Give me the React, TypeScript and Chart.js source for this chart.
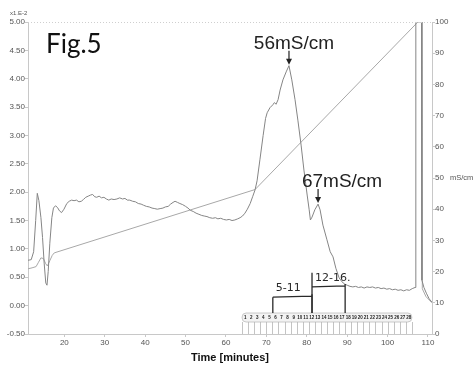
import React, { useEffect, useRef } from 'react';
import { Chart, registerables } from 'chart.js';

Chart.register(...registerables);

// UV absorbance trace (left axis, x1.E-2)
const uvTime = [
  11.0, 11.8, 12.4, 12.9, 13.3, 13.7, 14.2, 14.6, 15.0, 15.4, 15.7, 16.0, 16.4, 16.9, 17.3, 17.8, 18.3, 18.8, 19.3, 19.9,
  20.6, 21.2, 21.8, 22.4, 23.0, 23.6, 24.2, 24.7, 25.3, 25.9, 26.5, 27.0, 27.5, 28.0, 28.6, 29.2, 29.8, 30.4, 31.0, 31.6,
  32.3, 33.0, 33.7, 34.4, 35.0, 35.6, 36.2, 36.9, 37.6, 38.3, 39.0, 39.6, 40.3, 41.0, 41.7, 42.4, 43.0, 43.7, 44.4, 45.0,
  45.7, 46.3, 46.9, 47.4, 48.0, 48.6, 49.3, 50.0, 50.6, 51.2, 51.9, 52.6, 53.3, 54.0, 54.6, 55.3, 56.0, 56.7, 57.4, 58.0,
  58.7, 59.4, 60.1, 60.8, 61.5, 62.2, 62.9, 63.5, 64.1, 64.7, 65.3, 66.0, 66.6, 67.2, 67.7, 68.4, 69.2, 69.8, 70.2, 70.9,
  71.6, 72.0, 72.4, 72.9, 73.4, 74.1, 74.9, 75.6, 76.3, 77.1, 77.8, 78.6, 79.3, 80.1, 80.6, 80.9, 81.3, 82.0, 82.8, 83.3,
  84.0, 85.0, 85.8, 86.5, 87.2, 88.0, 88.7, 89.4, 90.0, 90.7, 91.4, 92.1, 92.8, 93.5, 94.2, 94.9, 95.6, 96.3, 97.0, 97.7,
  98.4, 99.1, 99.8, 100.5, 101.2, 101.9, 102.6, 103.3, 104.0, 104.7, 105.4, 106.1, 106.8, 107.0, 108.4, 108.5, 109.0, 109.6, 110.3, 111.0
];
const uvAbs = [
  0.80, 0.81, 0.95, 1.50, 1.98, 1.85, 1.55, 1.20, 0.75, 0.40, 0.36, 0.60, 1.10, 1.55, 1.72, 1.76, 1.73, 1.67, 1.64, 1.70,
  1.80, 1.84, 1.86, 1.85, 1.86, 1.83, 1.84, 1.87, 1.91, 1.93, 1.95, 1.96, 1.92, 1.91, 1.93, 1.90, 1.91, 1.88, 1.86, 1.88,
  1.87, 1.88, 1.90, 1.88, 1.89, 1.86, 1.86, 1.84, 1.83, 1.80, 1.79, 1.77, 1.75, 1.74, 1.72, 1.71, 1.70, 1.71, 1.72, 1.74,
  1.75, 1.79, 1.82, 1.84, 1.82, 1.80, 1.78, 1.75, 1.72, 1.68, 1.66, 1.63, 1.61, 1.59, 1.58, 1.57, 1.55, 1.54, 1.55, 1.53,
  1.54, 1.52, 1.51, 1.52, 1.50, 1.51, 1.53, 1.55, 1.58, 1.63, 1.70, 1.80, 1.92, 2.04, 2.20, 2.57, 3.00, 3.30, 3.40, 3.49,
  3.54, 3.58, 3.55, 3.63, 3.80, 3.98, 4.12, 4.23, 3.98, 3.63, 3.27, 2.83, 2.39, 1.95, 1.69, 1.51, 1.56, 1.69, 1.79, 1.69,
  1.42, 1.16, 0.95, 0.86, 0.66, 0.49, 0.42, 0.38, 0.36, 0.34, 0.33, 0.34, 0.32, 0.33, 0.31, 0.33, 0.32, 0.33, 0.31, 0.32,
  0.30, 0.31, 0.29, 0.30, 0.28, 0.29, 0.27, 0.28, 0.26, 0.28, 0.27, 0.30, 0.32, 5.60, 5.60, 0.45, 0.32, 0.22, 0.12, 0.06
];

// Conductivity trace (right axis, mS/cm)
const condTime = [11.0, 12.0, 13.0, 13.6, 14.2, 14.8, 15.4, 15.8, 16.4, 17.0, 17.5, 67.2, 107.5, 108.5, 108.6, 109.5, 111.0];
const condValue = [20.9, 21.2, 21.6, 23.0, 24.4, 24.2, 22.5, 21.8, 23.5, 25.2, 26.0, 46.3, 100, 100, 14.5, 12.0, 10.0];

// Axis ticks
const xTicks = [20, 30, 40, 50, 60, 70, 80, 90, 100, 110];
const leftTicks = [-0.5, 0, 0.5, 1, 1.5, 2, 2.5, 3, 3.5, 4, 4.5, 5];
const rightTicks = [0, 10, 20, 30, 40, 50, 60, 70, 80, 90, 100];

// Fraction collector
const fractionLabels = ['1', '2', '3', '4', '5', '6', '7', '8', '9', '10', '11', '12', '13', '14', '15', '16', '17', '18', '19', '20', '21', '22', '23', '24', '25', '26', '27', '28'];
const fractionEdges = [64.0, 65.5, 67.0, 68.5, 70.0, 71.5, 73.0, 74.5, 76.0, 77.5, 79.0, 80.5, 82.0, 83.5, 85.0, 86.5, 88.0, 89.5, 91.0, 92.5, 94.0, 95.5, 97.0, 98.5, 100.0, 101.5, 103.0, 104.5, 106.0];

// Hand-written pooled fractions
const bracketLabels = ['5-11', '12-16.'];
const bracketStart = [71.6, 81.3];
const bracketEnd = [81.3, 89.5];
const bracketLevel = [0.15, 0.33];
const bracketTop = [0.15, 0.58];

// Peak annotations
const peakLabels = ['56mS/cm', '67mS/cm'];
const peakTime = [75.6, 82.8];
const peakAbs = [4.23, 1.79];
const peakTextShift = [5, 24];

const overlay = {
  id: 'overlay',
  afterDraw(chart: any) {
    const { ctx, chartArea: a, scales } = chart;
    const x = scales.x, y = scales.y, y1 = scales.y1;
    ctx.save();

    // top frame line
    ctx.strokeStyle = '#cfcfcf';
    ctx.lineWidth = 1;
    ctx.setLineDash([1, 2]);
    ctx.beginPath();
    ctx.moveTo(a.left, a.top + 0.5);
    ctx.lineTo(a.right, a.top + 0.5);
    ctx.stroke();
    ctx.setLineDash([]);

    // unit labels
    ctx.fillStyle = '#555';
    ctx.font = '6px "Liberation Sans", Arial, sans-serif';
    ctx.textAlign = 'left';
    ctx.textBaseline = 'middle';
    ctx.fillText('x1.E-2', 10, a.top - 9);
    ctx.font = '7.5px "Liberation Sans", Arial, sans-serif';
    ctx.fillText('mS/cm', a.right + 18, y1.getPixelForValue(50));

    // Figure label
    ctx.fillStyle = '#111';
    ctx.font = '26px Lato, sans-serif';
    ctx.textBaseline = 'alphabetic';
    ctx.fillText('Fig.5', a.left + 18, a.top + 31);

    // Peak annotations with arrows
    for (let i = 0; i < peakLabels.length; i++) {
      const px = x.getPixelForValue(peakTime[i]);
      const py = y.getPixelForValue(peakAbs[i]);
      const tipY = py - 1;
      const tailY = tipY - 14;
      ctx.strokeStyle = '#222';
      ctx.fillStyle = '#222';
      ctx.lineWidth = 1.2;
      ctx.beginPath();
      ctx.moveTo(px, tailY);
      ctx.lineTo(px, tipY - 4);
      ctx.stroke();
      ctx.beginPath();
      ctx.moveTo(px - 3, tipY - 6);
      ctx.lineTo(px + 3, tipY - 6);
      ctx.lineTo(px, tipY);
      ctx.closePath();
      ctx.fill();
      ctx.font = '19px "Liberation Sans", Arial, sans-serif';
      ctx.textAlign = 'center';
      ctx.textBaseline = 'alphabetic';
      ctx.fillText(peakLabels[i], px + peakTextShift[i], tailY - 2);
    }

    // Fraction bar
    const bandTop = a.bottom - 21;
    const bandBot = a.bottom - 12;
    const fx0 = x.getPixelForValue(fractionEdges[0]);
    const fx1 = x.getPixelForValue(fractionEdges[fractionEdges.length - 1]);
    ctx.fillStyle = '#f3f3f3';
    ctx.strokeStyle = '#bdbdbd';
    ctx.lineWidth = 0.8;
    ctx.beginPath();
    if (ctx.roundRect) ctx.roundRect(fx0, bandTop, fx1 - fx0, bandBot - bandTop, 4);
    else ctx.rect(fx0, bandTop, fx1 - fx0, bandBot - bandTop);
    ctx.fill();
    ctx.stroke();
    ctx.strokeStyle = '#b5b5b5';
    for (let i = 0; i < fractionEdges.length; i++) {
      const ex = Math.round(x.getPixelForValue(fractionEdges[i])) + 0.5;
      ctx.beginPath();
      ctx.moveTo(ex, bandBot);
      ctx.lineTo(ex, a.bottom);
      ctx.stroke();
    }
    ctx.fillStyle = '#222';
    ctx.font = 'bold 4.5px "Liberation Sans", Arial, sans-serif';
    ctx.textAlign = 'center';
    ctx.textBaseline = 'middle';
    for (let i = 0; i < fractionLabels.length; i++) {
      const cx = x.getPixelForValue((fractionEdges[i] + fractionEdges[i + 1]) / 2);
      ctx.fillText(fractionLabels[i], cx, (bandTop + bandBot) / 2);
    }

    // Hand-drawn brackets
    ctx.strokeStyle = '#2a2a2a';
    ctx.fillStyle = '#2a2a2a';
    ctx.lineWidth = 1.3;
    for (let i = 0; i < bracketLabels.length; i++) {
      const sx = x.getPixelForValue(bracketStart[i]);
      const ex = x.getPixelForValue(bracketEnd[i]);
      const ly = y.getPixelForValue(bracketLevel[i]);
      const ty = y.getPixelForValue(bracketTop[i]);
      ctx.beginPath();
      ctx.moveTo(sx, ly);
      ctx.lineTo(ex, ly - 1);
      ctx.moveTo(sx, ty);
      ctx.lineTo(sx, bandTop);
      ctx.moveTo(ex, ly - 3);
      ctx.lineTo(ex, bandTop);
      ctx.stroke();
      ctx.font = '11px "DejaVu Sans", sans-serif';
      ctx.textAlign = 'left';
      ctx.textBaseline = 'bottom';
      ctx.fillText(bracketLabels[i], sx + 3, ly - 3);
    }

    ctx.restore();
  }
};

export default function App() {
  const ref = useRef<HTMLCanvasElement>(null);

  useEffect(() => {
    if (!ref.current) return;
    const tickFont = { family: '"Liberation Sans", Arial, sans-serif', size: 8 };
    const chart = new Chart(ref.current, {
      type: 'line',
      data: {
        datasets: [
          {
            label: 'UV',
            data: uvTime.map((t, i) => ({ x: t, y: uvAbs[i] })),
            borderColor: '#858585',
            borderWidth: 1,
            pointRadius: 0,
            tension: 0,
            yAxisID: 'y',
          },
          {
            label: 'Conductivity',
            data: condTime.map((t, i) => ({ x: t, y: condValue[i] })),
            borderColor: '#a8a8a8',
            borderWidth: 1,
            pointRadius: 0,
            tension: 0,
            yAxisID: 'y1',
          },
        ],
      },
      options: {
        responsive: false,
        animation: false,
        layout: { padding: { top: 22, left: 0, right: 0, bottom: 0 } },
        plugins: { legend: { display: false }, tooltip: { enabled: false } },
        scales: {
          x: {
            type: 'linear',
            min: 11,
            max: 111,
            afterBuildTicks: (s: any) => { s.ticks = xTicks.map((v) => ({ value: v })); },
            afterFit: (s: any) => { s.height = 35; },
            grid: { drawOnChartArea: false, tickLength: 3, color: '#c8c8c8' },
            border: { color: '#c8c8c8' },
            ticks: { color: '#555', font: tickFont, padding: 1, maxRotation: 0 },
            title: {
              display: true,
              text: 'Time [minutes]',
              color: '#111',
              font: { family: '"Liberation Sans", Arial, sans-serif', size: 11, weight: 'bold' },
              padding: { top: 0, bottom: 4 },
            },
          },
          y: {
            type: 'linear',
            position: 'left',
            min: -0.5,
            max: 5,
            afterBuildTicks: (s: any) => { s.ticks = leftTicks.map((v) => ({ value: v })); },
            afterFit: (s: any) => { s.width = 28; },
            grid: { drawOnChartArea: false, tickLength: 3, color: '#c8c8c8' },
            border: { color: '#c8c8c8' },
            ticks: { color: '#555', font: tickFont, padding: 0, callback: (v: any) => Number(v).toFixed(2) },
          },
          y1: {
            type: 'linear',
            position: 'right',
            min: 0,
            max: 100,
            afterBuildTicks: (s: any) => { s.ticks = rightTicks.map((v) => ({ value: v })); },
            afterFit: (s: any) => { s.width = 44; },
            grid: { drawOnChartArea: false, tickLength: 3, color: '#c8c8c8' },
            border: { color: '#c8c8c8' },
            ticks: { color: '#555', font: tickFont, padding: 0 },
          },
        },
      } as any,
      plugins: [overlay],
    });
    return () => chart.destroy();
  }, []);

  return (
    <div style={{ position: 'absolute', left: 0, top: 0, width: 476, height: 369, background: '#fff' }}>
      <canvas ref={ref} width={476} height={369} style={{ display: 'block' }} />
    </div>
  );
}
